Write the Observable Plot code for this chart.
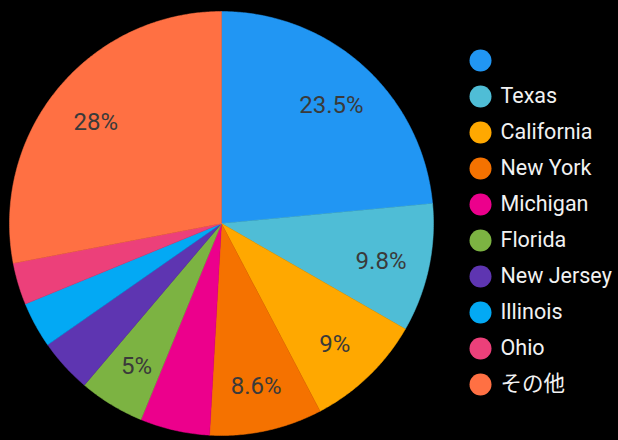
<!DOCTYPE html>
<html>
<head>
<meta charset="utf-8">
<script src="https://cdn.jsdelivr.net/npm/d3@7"></script>
<script src="https://cdn.jsdelivr.net/npm/@observablehq/plot@0.6"></script>
<style>
  html, body { margin: 0; padding: 0; background: #000; }
  #wrap { position: relative; width: 618px; height: 440px; overflow: hidden; }
  #legend { position: absolute; left: 460px; top: 0; }
  #pie { position: absolute; left: 0; top: 0; }
</style>
</head>
<body>
<div id="wrap"><div id="pie"></div><div id="legend"></div></div>
<script>
const names = ["", "Texas", "California", "New York", "Michigan", "Florida", "New Jersey", "Illinois", "Ohio", "その他"];
const values = [23.5, 9.8, 9, 8.6, 5.3, 5, 4.1, 3.5, 3.2, 28];
const sliceLabels = ["23.5%", "9.8%", "9%", "8.6%", "", "5%", "", "", "", "28%"];
const colors = ["#2196F3", "#4FBDD6", "#FFA800", "#F57200", "#EC008C", "#7CB342", "#5E35B1", "#03A9F4", "#EC407A", "#FF7043"];

const FONT = "Roboto, 'Noto Sans CJK JP', sans-serif";
const data = names.map((n, i) => ({name: n, value: values[i], label: sliceLabels[i]}));
const arcs = d3.pie().sort(null).value(d => d.value)(data);

// polygon vertices for each slice (unit circle, y up)
const pts = [];
arcs.forEach(a => {
  const n = a.data.name;
  pts.push({name: n, x: 0, y: 0});
  const steps = Math.max(2, Math.ceil((a.endAngle - a.startAngle) / (Math.PI / 360)));
  for (let k = 0; k <= steps; k++) {
    const t = a.startAngle + (a.endAngle - a.startAngle) * k / steps;
    pts.push({name: n, x: Math.sin(t), y: Math.cos(t)});
  }
  pts.push({name: n, x: 0, y: 0});
});
const labelR = 0.77;
const labelData = arcs.filter(a => a.data.label).map(a => {
  const m = (a.startAngle + a.endAngle) / 2;
  return {label: a.data.label, x: labelR * Math.sin(m), y: labelR * Math.cos(m)};
});

const colorScale = {domain: names, range: colors};

const pie = Plot.plot({
  width: 618, height: 440,
  marginLeft: 9, marginRight: 185, marginTop: 11, marginBottom: 5,
  style: {background: "transparent", fontFamily: FONT},
  x: {domain: [-1, 1], axis: null},
  y: {domain: [-1, 1], axis: null},
  color: colorScale,
  marks: [
    Plot.line(pts, {x: "x", y: "y", z: "name", fill: "name", stroke: "name", strokeWidth: 0.5, curve: "linear"}),
    Plot.text(labelData, {x: "x", y: "y", text: "label", fill: "#3a3a3a", fontSize: 24, dy: 3})
  ]
});
document.getElementById("pie").appendChild(pie);

const legend = Plot.plot({
  width: 158, height: 440,
  marginLeft: 20, marginRight: 0, marginTop: 60, marginBottom: 56,
  style: {background: "transparent", fontFamily: FONT},
  x: {domain: [0, 1], axis: null},
  y: {type: "point", domain: names, padding: 0, axis: null},
  color: colorScale,
  marks: [
    Plot.dot(names, {x: 0, y: d => d, fill: d => d, r: 11}),
    Plot.text(names, {x: 0, y: d => d, text: d => d, dx: 20, textAnchor: "start", fill: "#f2f2f2", fontSize: 21.5})
  ]
});
document.getElementById("legend").appendChild(legend);
</script>
</body>
</html>
